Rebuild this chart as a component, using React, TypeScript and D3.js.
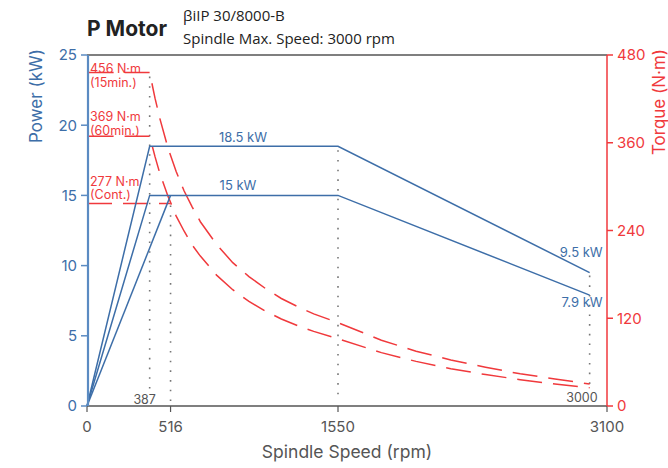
import React from "react";
import * as d3 from "d3";

const speedTicks = [0, 516, 1550, 3100];
const powerTicks = [0, 5, 10, 15, 20, 25];
const torqueTicks = [0, 120, 240, 360, 480];

// Power output curves [rpm, kW]
const power15min: [number, number][] = [[0, 0], [387, 18.5], [1550, 18.5], [3000, 9.5]];
const power60min: [number, number][] = [[0, 0], [387, 15], [1550, 15], [3000, 7.9]];
const powerCont: [number, number][] = [[0, 0], [516, 15]];

// Torque curves [rpm, N·m]
const torque15min: [number, number][] = [
  [10, 456], [387, 456], [420, 421], [450, 393], [500, 353], [550, 321], [600, 294],
  [650, 272], [700, 252], [800, 221], [900, 196], [1000, 177], [1100, 161], [1200, 147],
  [1300, 136], [1400, 126], [1550, 114], [1800, 90], [2000, 75], [2200, 63], [2400, 53],
  [2600, 44], [2800, 37], [3000, 30],
];
const torque60min: [number, number][] = [
  [10, 369], [387, 369], [420, 341], [450, 318], [500, 287], [550, 260], [600, 239],
  [650, 220], [700, 205], [800, 179], [900, 159], [1000, 143], [1100, 130], [1200, 119],
  [1300, 110], [1400, 102], [1550, 92], [1800, 73], [2000, 61], [2200, 51], [2400, 43],
  [2600, 36], [2800, 30], [3000, 25],
];
const torqueCont: [number, number][] = [[0, 277], [516, 277]];

const torqueLabels = [
  { value: 456, lines: ["456 N·m", "(15min.)"] },
  { value: 369, lines: ["369 N·m", "(60min.)"] },
  { value: 277, lines: ["277 N·m", "(Cont.)"] },
];

const BLUE = "#3d6ea8";
const AXBLUE = "#5b8bc2";
const RED = "#f0393c";
const GRAY = "#555";
const FONT = "Inter, 'Noto Sans', sans-serif";

export default function App() {
  const x = d3.scaleLinear().domain([0, 1550, 3100]).range([87, 338, 607]);
  const yP = d3.scaleLinear().domain([0, 25]).range([406, 55]);
  const yT = d3.scaleLinear().domain([0, 480]).range([406, 55]);

  const lineP = d3.line<[number, number]>().x((d) => x(d[0])).y((d) => yP(d[1]));
  const lineT = d3.line<[number, number]>().x((d) => x(d[0])).y((d) => yT(d[1]));

  const x0 = x(0);
  const x1 = x(3100);
  const yb = yP(0);
  const yt = yP(25);

  const dotted = [
    { rpm: 387, top: yT(456) + 4, bottom: yP(1) },
    { rpm: 516, top: yT(277) + 2, bottom: yb - 4 },
    { rpm: 1550, top: yP(18.5) + 4, bottom: yb - 4 },
    { rpm: 3000, top: yP(9.5) + 3, bottom: yP(1.2) },
  ];

  // per-label baseline offsets relative to the torque line
  const labelDy = [
    [0.5, 14.5],
    [-15, -1.5],
    [-17.5, -4],
  ];

  return (
    <svg
      width={668}
      height={468}
      style={{ position: "absolute", left: 0, top: 0, background: "#fff" }}
      fontFamily={FONT}
    >
      {/* Title */}
      <text x={87} y={36} fontSize={21} fontWeight={700} fill="#222">P Motor</text>
      <text x={183} y={21} fontSize={15} fill="#222" fontFamily="'Open Sans', 'Noto Sans', sans-serif">βiIP 30/8000-B</text>
      <text x={183} y={44} fontSize={15} fill="#222" fontFamily="'Open Sans', 'Noto Sans', sans-serif">Spindle Max. Speed: 3000 rpm</text>

      {/* frame */}
      <line x1={x0} x2={x1} y1={yt} y2={yt} stroke={GRAY} strokeWidth={1.5} />

      {/* dotted guides */}
      {dotted.map((d, i) => (
        <line
          key={i}
          x1={x(d.rpm)}
          x2={x(d.rpm)}
          y1={d.top}
          y2={d.bottom}
          stroke="#777"
          strokeWidth={1.6}
          strokeDasharray="1.6,8.1"
        />
      ))}

      {/* torque curves */}
      {[torque15min, torque60min, torqueCont].map((d, i) => (
        <path
          key={i}
          d={lineT(d) || ""}
          fill="none"
          stroke={RED}
          strokeWidth={1.5}
          strokeDasharray="25,11"
        />
      ))}

      {/* power curves */}
      {[power15min, power60min, powerCont].map((d, i) => (
        <path key={i} d={lineP(d) || ""} fill="none" stroke={BLUE} strokeWidth={1.5} />
      ))}

      {/* torque labels */}
      {torqueLabels.map((l, i) => (
        <g key={i} fill={RED} fontSize={12.5}>
          <text x={90} y={yT(l.value) + labelDy[i][0]}>{l.lines[0]}</text>
          <text x={90} y={yT(l.value) + labelDy[i][1]}>{l.lines[1]}</text>
        </g>
      ))}

      {/* power labels */}
      <g fill={BLUE} fontSize={13}>
        <text x={243} y={yP(18.5) - 4.5} textAnchor="middle">18.5 kW</text>
        <text x={238} y={yP(15) - 5} textAnchor="middle">15 kW</text>
        <text x={x(3000) + 13} y={yP(9.5) - 15.5} textAnchor="end">9.5 kW</text>
        <text x={x(3000) + 13} y={yP(7.9) + 12} textAnchor="end">7.9 kW</text>
      </g>

      {/* speed annotations */}
      <g fill={GRAY} fontSize={12.5}>
        <text x={x(387) - 5} y={404} textAnchor="middle">387</text>
        <text x={x(3000) + 8} y={402} textAnchor="end">3000</text>
      </g>

      {/* bottom axis */}
      <line x1={x0} x2={x1} y1={yb} y2={yb} stroke={GRAY} strokeWidth={1.5} />
      {speedTicks.map((t) => (
        <g key={t}>
          <line x1={x(t)} x2={x(t)} y1={yb} y2={yb + 6} stroke={GRAY} strokeWidth={1.2} />
          <text x={x(t)} y={432} textAnchor="middle" fontSize={15} fill={GRAY}>{t}</text>
        </g>
      ))}
      <text x={347} y={458} textAnchor="middle" fontSize={17.5} fill={GRAY}>Spindle Speed (rpm)</text>

      {/* left axis */}
      <line x1={x0 + 1} x2={x0 + 1} y1={yt} y2={yb} stroke={AXBLUE} strokeWidth={2.2} />
      {powerTicks.map((t) => (
        <g key={t}>
          <line x1={x0 - 6} x2={x0} y1={yP(t)} y2={yP(t)} stroke={AXBLUE} strokeWidth={1.5} />
          <text x={77} y={yP(t)} dy="0.36em" textAnchor="end" fontSize={15} fill={BLUE}>{t}</text>
        </g>
      ))}
      <text
        transform={`translate(42,96) rotate(-90)`}
        textAnchor="middle"
        fontSize={17}
        fill={BLUE}
      >
        Power (kW)
      </text>

      {/* right axis */}
      <line x1={x1} x2={x1} y1={yt} y2={yb} stroke={RED} strokeWidth={1.5} />
      {torqueTicks.map((t) => (
        <g key={t}>
          <line x1={x1} x2={x1 + 6} y1={yT(t)} y2={yT(t)} stroke={RED} strokeWidth={1.5} />
          <text x={617} y={yT(t)} dy="0.36em" fontSize={15} fill={RED}>{t}</text>
        </g>
      ))}
      <text
        transform={`translate(665,102) rotate(-90)`}
        textAnchor="middle"
        fontSize={17}
        fill={RED}
      >
        Torque (N·m)
      </text>
    </svg>
  );
}
